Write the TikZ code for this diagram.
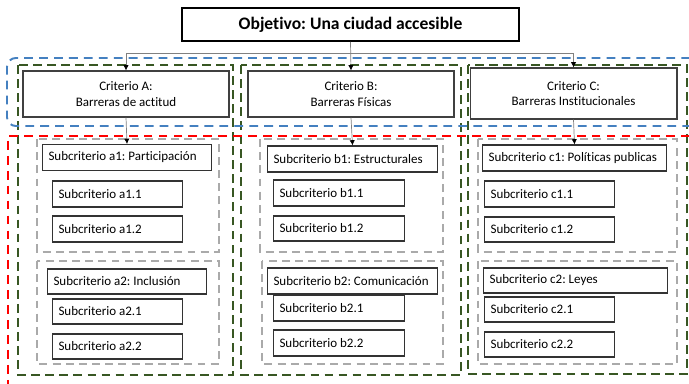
\documentclass[tikz,border=0pt]{standalone}
\usepackage{fontspec}
\setmainfont[Ligatures=NoCommon]{Carlito}
\usetikzlibrary{arrows.meta}
\definecolor{grpgreen}{RGB}{56,87,35}
\definecolor{grpblue}{RGB}{68,128,192}
\definecolor{grpgray}{RGB}{170,170,170}
\frenchspacing
\begin{document}
\begin{tikzpicture}[x=0.02cm, y=-0.02cm,
  font=\fontsize{7.4}{9}\selectfont,
  goal/.style={draw=black, line width=1.1pt, minimum width=6.74cm, minimum height=0.66cm, font=\fontsize{10}{12}\selectfont\bfseries},
  crit/.style={draw=black!75, line width=0.6pt, align=center, minimum height=0.92cm},
  sbox/.style={draw=black!80, line width=0.6pt, anchor=west, align=flush left, inner xsep=0.12cm, minimum height=0.52cm, text width=#1},
  conn/.style={draw=gray, line width=0.4pt, -{Latex[color=black, length=3pt, width=3pt]}},
  colgrp/.style={draw=grpgreen, line width=1.5pt, dash pattern=on 5pt off 3pt},
  rowgrp/.style={line width=1.1pt, dash pattern=on 5pt off 3.5pt},
  subgrp/.style={draw=grpgray, line width=1.1pt, dash pattern=on 4.5pt off 3pt}]
\useasboundingbox (0,0) rectangle (689,384);
% columns
\draw[colgrp] (18,65) rectangle (233,375);
\draw[colgrp] (241,65) rectangle (461,375);
\draw[colgrp] (468,65) rectangle (687,374);
% rows
\draw[rowgrp, draw=grpblue, rounded corners=5pt] (705,58) -- (7,58) -- (7,126) -- (705,126);
\draw[rowgrp, draw=red] (705,136) -- (8,136) -- (8,400);
% sub groups
\draw[subgrp] (37,139) rectangle (219,252);
\draw[subgrp] (37,261) rectangle (219,364);
\draw[subgrp] (260,139) rectangle (443,252);
\draw[subgrp] (262,261) rectangle (443,364);
\draw[subgrp] (478,139) rectangle (677,252);
\draw[subgrp] (478,261) rectangle (677,364);
% goal and criteria
\node[goal] (goal) at (350.5,24.5) {Objetivo: Una ciudad accesible};
\node[crit, minimum width=4.12cm] (critA) at (126,94) {Criterio A:\\Barreras de actitud};
\node[crit, minimum width=4.12cm] (critB) at (351,94) {Criterio B:\\Barreras Físicas};
\node[crit, minimum width=4.14cm, minimum height=1.02cm] (critC) at (573.5,93.5) {Criterio C:\\Barreras Institucionales};
\coordinate (hub) at (351,53);
\draw[conn] (goal.south) -- (critB.north);
\draw[conn] (hub) -| (critA.north);
\draw[conn] (hub) -| (critC.north);
% criterio A
\node[sbox=3.14cm] (a1) at (42,157.5) {Subcriterio a1: Participación};
\node[sbox=2.36cm] (a11) at (52,194) {Subcriterio a1.1};
\node[sbox=2.36cm] (a12) at (52,229) {Subcriterio a1.2};
\node[sbox=2.94cm, minimum height=0.5cm] (a2) at (47,281.5) {Subcriterio a2: Inclusión};
\node[sbox=2.36cm, minimum height=0.5cm] (a21) at (52,311.5) {Subcriterio a2.1};
\node[sbox=2.36cm, minimum height=0.5cm] (a22) at (52,346.5) {Subcriterio a2.2};
\draw[conn] (critA.south) -- (a1.north);
% criterio B
\node[sbox=3.16cm] (b1) at (267,159) {Subcriterio b1: Estructurales};
\node[sbox=2.38cm] (b11) at (273,193) {Subcriterio b1.1};
\node[sbox=2.38cm, minimum height=0.5cm] (b12) at (273,228.5) {Subcriterio b1.2};
\node[sbox=3.16cm] (b2) at (267,281) {Subcriterio b2: Comunicación};
\node[sbox=2.38cm] (b21) at (273,308) {Subcriterio b2.1};
\node[sbox=2.38cm] (b22) at (273,343) {Subcriterio b2.2};
\draw[conn] (critB.south) -- (b1.north);
% criterio C
\node[sbox=3.44cm] (c1) at (482,158) {Subcriterio c1: Políticas publicas};
\node[sbox=2.36cm] (c11) at (484,194) {Subcriterio c1.1};
\node[sbox=2.36cm, minimum height=0.5cm] (c12) at (484,229.5) {Subcriterio c1.2};
\node[sbox=3.44cm, minimum height=0.5cm] (c2) at (483,280.5) {Subcriterio c2: Leyes};
\node[sbox=2.36cm, minimum height=0.5cm] (c21) at (484,309.5) {Subcriterio c2.1};
\node[sbox=2.36cm, minimum height=0.5cm] (c22) at (484,344.5) {Subcriterio c2.2};
\draw[conn] (critC.south) -- (c1.north);
\end{tikzpicture}
\end{document}
